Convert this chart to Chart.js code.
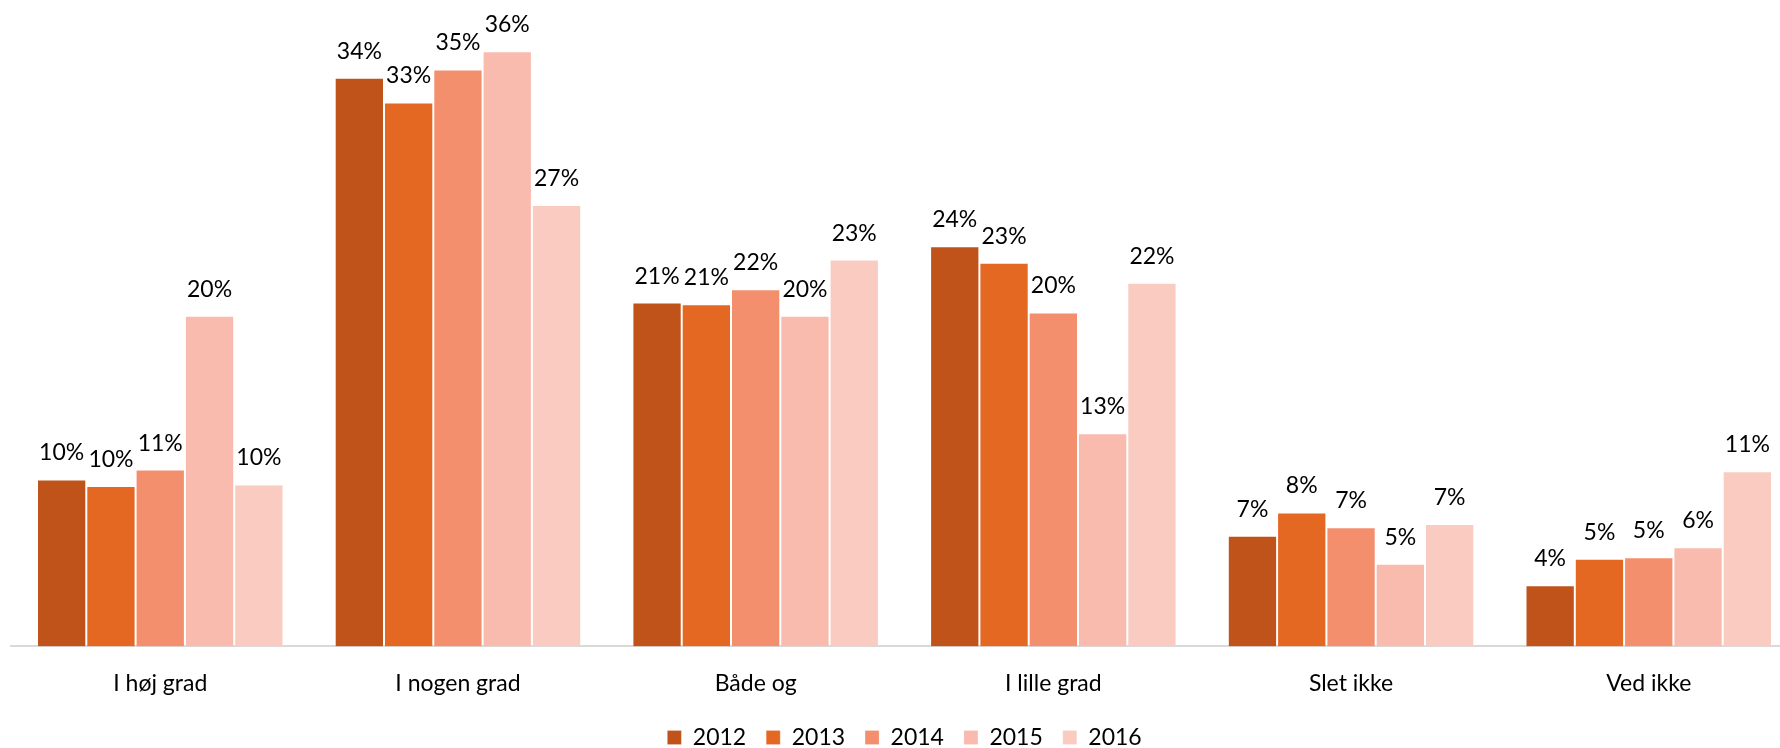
<!DOCTYPE html>
<html>
<head>
<meta charset="utf-8">
<script src="https://cdn.jsdelivr.net/npm/chart.js@4"></script>
<style>
    html, body { margin: 0; padding: 0; background: #fff; overflow: hidden; }
    #wrap { width: 1800px; height: 748px; position: relative; }
</style>
</head>
<body>
<div id="wrap"><canvas id="myChart"></canvas></div>
<script>
// kategori dan nilai (persen)
const categories = ["I høj grad", "I nogen grad", "Både og", "I lille grad", "Slet ikke", "Ved ikke"];
const years = ["2012", "2013", "2014", "2015", "2016"];
const v2012 = [10.1, 34.4, 20.8, 24.2, 6.7, 3.7];
const v2013 = [9.7, 32.9, 20.7, 23.2, 8.1, 5.3];
const v2014 = [10.7, 34.9, 21.6, 20.2, 7.2, 5.4];
const v2015 = [20.0, 36.0, 20.0, 12.9, 5.0, 6.0];
const v2016 = [9.8, 26.7, 23.4, 22.0, 7.4, 10.6];
const colors = ["#c0531a", "#e46722", "#f48f6e", "#f8bbae", "#facbc1"];

const FONT = "Lato, 'Open Sans', sans-serif";

// tulis label persen di atas setiap batang
const barLabels = {
    id: "barLabels",
    afterDatasetsDraw(chart) {
        const ctx = chart.ctx;
        ctx.save();
        ctx.font = "23px " + FONT;
        ctx.fillStyle = "#000";
        ctx.textAlign = "center";
        ctx.textBaseline = "alphabetic";
        chart.data.datasets.forEach((ds, i) => {
            chart.getDatasetMeta(i).data.forEach((bar, j) => {
                ctx.fillText(Math.round(ds.data[j]) + "%", bar.x, bar.y - 19);
            });
        });
        ctx.restore();
    },
};

const series = [v2012, v2013, v2014, v2015, v2016];
const ctx = document.getElementById("myChart");
new Chart(ctx, {
    type: "bar",
    data: {
        labels: categories,
        datasets: series.map((vals, i) => ({
            label: years[i],
            data: vals,
            backgroundColor: colors[i],
            borderColor: "rgba(255,255,255,0.2)",
            borderWidth: 1,
            categoryPercentage: 0.828,
            barPercentage: 1,
        })),
    },
    options: {
        responsive: true,
        maintainAspectRatio: false,
        animation: false,
        layout: { padding: { left: 11.4, right: 2.4, top: 0, bottom: -11 } },
        scales: {
            x: {
                grid: { display: false, drawTicks: false },
                border: { color: "#d9d9d9", width: 2 },
                ticks: { color: "#000", font: { family: FONT, size: 23 }, padding: 23 },
                afterFit: function (scale) {
                    scale.height -= 14; // rapatkan jarak ke legend
                },
            },
            y: {
                display: false,
                min: 0,
                max: 39.1,
            },
        },
        plugins: {
            legend: {
                position: "bottom",
                labels: {
                    boxWidth: 14,
                    boxHeight: 14,
                    padding: 20,
                    color: "#000",
                    font: { family: FONT, size: 23 },
                },
            },
            tooltip: { enabled: false },
        },
    },
    plugins: [barLabels],
});
</script>
</body>
</html>
